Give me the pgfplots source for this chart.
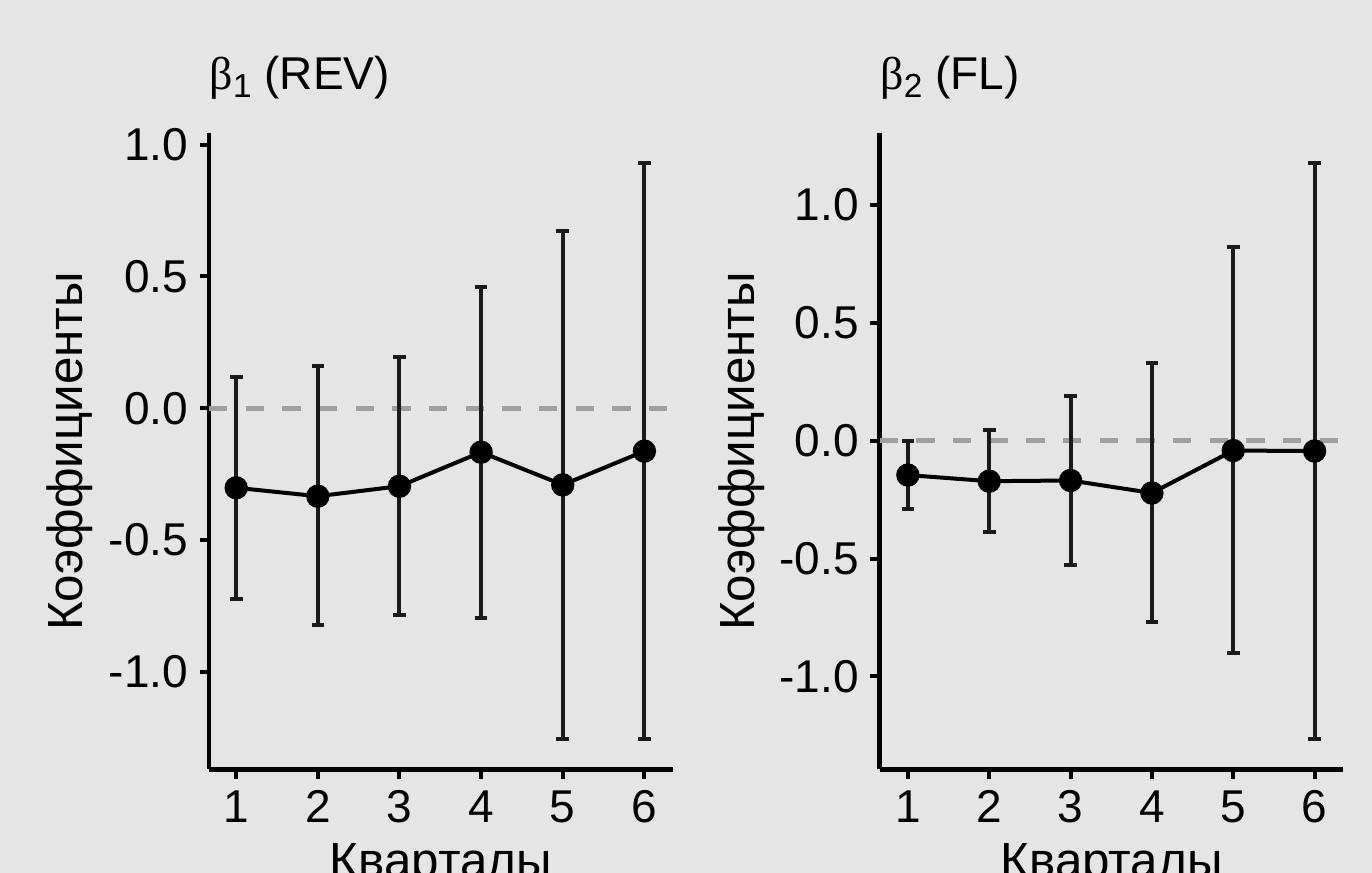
\documentclass[border=0pt]{standalone}
\usepackage{fontspec}
\setmainfont{Liberation Sans}
\newfontfamily\symfont{Liberation Serif}
\usepackage{pgfplots}
\usepackage{pgfplotstable}
\pgfplotsset{compat=1.18}
\definecolor{panelbg}{HTML}{E5E5E5}
\definecolor{refgray}{HTML}{A0A0A0}
\definecolor{barink}{HTML}{1A1A1A}

% quarter, coefficient, upper and lower half-widths of the interval
\pgfplotstableread{
q coef   ep    em
1 -0.302 0.422 0.423
2 -0.334 0.493 0.489
3 -0.296 0.491 0.489
4 -0.167 0.628 0.628
5 -0.291 0.964 0.965
6 -0.163 1.093 1.093
}\revtab
\pgfplotstableread{
q coef   ep    em
1 -0.146 0.146 0.143
2 -0.172 0.218 0.217
3 -0.169 0.357 0.360
4 -0.222 0.553 0.548
5 -0.042 0.862 0.858
6 -0.044 1.220 1.222
}\fltab

\newcommand{\axfont}{\fontsize{13.8}{16}\selectfont}
\newcommand{\lblfont}{\fontsize{14.8}{17}\selectfont}
\newcommand{\ttlfont}{\fontsize{13.8}{16}\selectfont}

\pgfplotsset{
  coefpanel/.style={
    scale only axis, width=139.1pt, height=190.8pt,
    axis x line*=bottom, axis y line*=left,
    axis line style={line width=1.4pt, black, -},
    tick align=outside, major tick length=2.8pt,
    tick style={line width=1.2pt, black},
    xtick={1,2,3,4,5,6}, xticklabels={1,2,3,4,5,6},
    ytick={-1,-0.5,0,0.5,1}, yticklabels={-1.0,-0.5,0.0,0.5,1.0},
    tick label style={font=\axfont},
    label style={font=\lblfont},
    xlabel={Кварталы}, ylabel={Коэффициенты},
    xlabel style={at={(axis description cs:0.5,-0.1706)}, anchor=base},
    every axis title shift=0pt,
    title style={anchor=base west, inner sep=0pt, font=\ttlfont},
  },
  refline/.style={refgray, line width=1.5pt, dash pattern=on 5.5pt off 5.5pt, forget plot},
  coefline/.style={black, line width=1.2pt, mark=*, mark size=2.9pt,
    mark options={solid, fill=black},
    error bars/.cd, y dir=both, y explicit,
    error bar style={line width=1.2pt, barink},
    error mark options={rotate=90, mark size=1.9pt, line width=1.2pt, barink}},
}

\begin{document}
\begin{tikzpicture}
\path[use as bounding box] (0pt,0pt) rectangle (411.6pt,261.9pt);
\fill[panelbg] (0pt,0pt) rectangle (411.6pt,261.9pt);
\clip (0pt,0pt) rectangle (411.6pt,261.9pt);

\begin{axis}[coefpanel,
  at={(62.73pt,31.05pt)}, anchor=south west,
  xmin=0.668, xmax=6.348, ymin=-1.371, ymax=1.0425,
  ylabel style={at={(axis description cs:-0.272,0.5)}, anchor=base},
  title={{\symfont β}\raisebox{-2.4pt}{\fontsize{10}{11}\selectfont 1} (REV)},
  title style={at={(axis description cs:0,1.0686)}},
]
\addplot[refline] coordinates {(0.668,0) (6.348,0)};
\addplot[coefline] table[x=q, y=coef, y error plus=ep, y error minus=em] {\revtab};
\end{axis}

\begin{axis}[coefpanel,
  at={(263.94pt,31.05pt)}, anchor=south west,
  xmin=0.655, xmax=6.355, ymin=-1.395, ymax=1.303,
  ylabel style={at={(axis description cs:-0.2695,0.5)}, anchor=base},
  title={{\symfont β}\raisebox{-2.4pt}{\fontsize{10}{11}\selectfont 2} (FL)},
  title style={at={(axis description cs:0,1.0686)}},
]
\addplot[refline] coordinates {(0.655,0) (6.355,0)};
\addplot[coefline] table[x=q, y=coef, y error plus=ep, y error minus=em] {\fltab};
\end{axis}
\end{tikzpicture}
\end{document}
